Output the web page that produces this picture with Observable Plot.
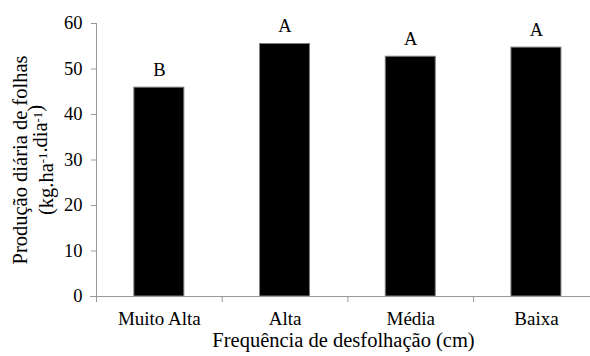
<!DOCTYPE html>
<html><head><meta charset="utf-8">
<script src="https://cdn.jsdelivr.net/npm/d3@7"></script>
<script src="https://cdn.jsdelivr.net/npm/@observablehq/plot@0.6"></script>
<style>body{margin:0;background:#fff;font-family:"Liberation Serif",serif} svg text{font-family:"Liberation Serif",serif}</style>
</head><body><div id="chart"></div>
<script>
const categories = ["Muito Alta", "Alta", "Média", "Baixa"];
const values = [45.9, 55.5, 52.7, 54.7];
const letters = ["B", "A", "A", "A"];
const yTicks = [0, 10, 20, 30, 40, 50, 60];
const yTitle1 = "Produção diária de folhas";
const yTitle2 = "(kg.ha-1.dia-1)";
const xTitle = "Frequência de desfolhação (cm)";

const data = categories.map((c, i) => ({cat: c, value: values[i], letter: letters[i]}));
const W = 590, H = 356, ml = 96, mt = 23, mb = 60;
const bandStep = 125.7;
const xRange = [ml, ml + bandStep * categories.length];
const barWidth = 50;
const inset = (bandStep - barWidth) / 2;
const axisColor = "#999";
const font = "Liberation Serif";

const plot = Plot.plot({
  width: W, height: H, marginLeft: ml, marginTop: mt, marginBottom: mb, marginRight: 0,
  style: {fontFamily: font, fontSize: "18.5px", color: "#000", background: "#fff"},
  x: {domain: categories, range: xRange, padding: 0, round: false},
  y: {domain: [0, 60]},
  marks: [
    Plot.barY(data, {x: "cat", y: "value", fill: "#000", stroke: "#7f7f7f", strokeWidth: 1, insetLeft: inset, insetRight: inset}),
    Plot.frame({anchor: "left", stroke: axisColor}),
    Plot.ruleY([0], {stroke: axisColor, insetLeft: -6}),
    Plot.ruleX(categories, {x: d => d, dx: -bandStep / 2, y1: 0, y2: 0, insetBottom: -6, stroke: axisColor}),
    Plot.axisY({ticks: yTicks, tickSize: 5, tickPadding: 9, stroke: axisColor, fill: "#000", fontSize: 18.5, fontFamily: font, label: null, tickFormat: d => String(d)}),
    Plot.axisX({tickSize: 0, tickPadding: 15, fill: "#000", fontSize: 19, fontFamily: font, label: null}),
    Plot.text(data, {x: "cat", y: "value", text: "letter", dy: -18, fontSize: 18.5, fontFamily: font, fill: "#000"}),
    Plot.text([yTitle1], {frameAnchor: "left", textAnchor: "middle", rotate: -90, dx: -76, fontSize: 20.5, fontFamily: font, fill: "#000"}),
    Plot.text([yTitle2], {frameAnchor: "left", textAnchor: "middle", rotate: -90, dx: -50, fontSize: 20.5, fontFamily: font, fill: "#000"}),
    Plot.text([xTitle], {frameAnchor: "bottom", textAnchor: "middle", dy: 36, lineAnchor: "top", fontSize: 20.5, fontFamily: font, fill: "#000"})
  ]
});
document.getElementById("chart").appendChild(plot);

// superscripts in the unit line
d3.select(plot).selectAll("text").filter(function() { return this.textContent === yTitle2; })
  .each(function() {
    const t = d3.select(this);
    t.text(null);
    const parts = yTitle2.split(/(-1)/).filter(s => s.length);
    parts.forEach(p => {
      if (p === "-1") {
        t.append("tspan").attr("dy", "-0.45em").attr("font-size", "0.62em").text(p);
        t.append("tspan").attr("dy", "0.28em").text("");
      } else {
        t.append("tspan").text(p);
      }
    });
  });
</script>
</body></html>
